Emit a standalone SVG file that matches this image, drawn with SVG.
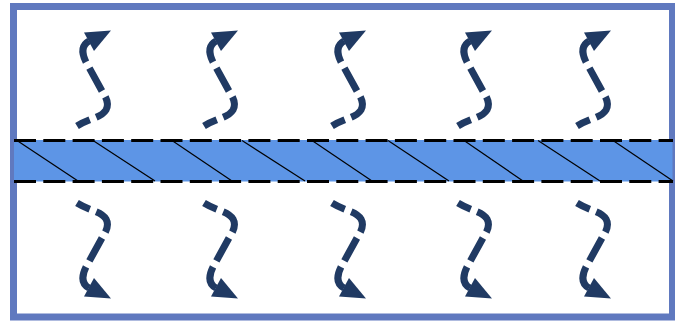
<svg xmlns="http://www.w3.org/2000/svg" xmlns:xlink="http://www.w3.org/1999/xlink" width="675" height="321" viewBox="0 0 675 321">
  <style>
    .frame { fill: #ffffff; stroke: #6079BF; stroke-width: 7; }
    .band { fill: #5D95E6; stroke: none; }
    .edge { fill: none; stroke: #000000; stroke-width: 3; stroke-dasharray: 22 7.3; }
    .hatch { fill: none; stroke: #000000; stroke-width: 1.2; }
    .flow { fill: none; stroke: #203A63; stroke-width: 7; stroke-dasharray: 26 7; stroke-dashoffset: 12; }
    .head { fill: #203A63; stroke: none; }
  </style>
  <defs>
    <g id="arrowUp">
      <path class="flow" d="M77,126 C90,118 101,118 106,110 C110,103 105,96 102,91 L86,62 C81,52 82,45 89,41"/>
      <polygon class="head" points="84,32.5 111,30.5 94,51"/>
    </g>
  </defs>
  <g id="frame">
    <rect class="frame" x="13.5" y="6.5" width="659" height="310.5"/>
  </g>
  <g id="band">
    <rect class="band" x="14" y="140" width="658.5" height="41.5"/>
    <line class="edge" x1="14" y1="140.5" x2="673" y2="140.5"/>
    <line class="edge" x1="14" y1="181.5" x2="673" y2="181.5"/>
    <g id="hatching">
      <line class="hatch" x1="17" y1="140.5" x2="78" y2="181"/>
      <line class="hatch" x1="93" y1="140.5" x2="155" y2="181"/>
      <line class="hatch" x1="172" y1="140.5" x2="232" y2="181"/>
      <line class="hatch" x1="242" y1="140.5" x2="305" y2="181"/>
      <line class="hatch" x1="312" y1="140.5" x2="372" y2="181"/>
      <line class="hatch" x1="388" y1="140.5" x2="449" y2="181"/>
      <line class="hatch" x1="464" y1="140.5" x2="523" y2="181"/>
      <line class="hatch" x1="538" y1="140.5" x2="600" y2="181"/>
      <line class="hatch" x1="613" y1="140.5" x2="673" y2="181"/>
    </g>
  </g>
  <g id="connectors">
    <use xlink:href="#arrowUp" transform="translate(0,0)"/>
    <use xlink:href="#arrowUp" transform="translate(127,0)"/>
    <use xlink:href="#arrowUp" transform="translate(255,0)"/>
    <use xlink:href="#arrowUp" transform="translate(381,0)"/>
    <use xlink:href="#arrowUp" transform="translate(500,0)"/>
    <use xlink:href="#arrowUp" transform="matrix(1 0 0 -1 0 329)"/>
    <use xlink:href="#arrowUp" transform="matrix(1 0 0 -1 127 329)"/>
    <use xlink:href="#arrowUp" transform="matrix(1 0 0 -1 255 329)"/>
    <use xlink:href="#arrowUp" transform="matrix(1 0 0 -1 381 329)"/>
    <use xlink:href="#arrowUp" transform="matrix(1 0 0 -1 500 329)"/>
  </g>
</svg>
